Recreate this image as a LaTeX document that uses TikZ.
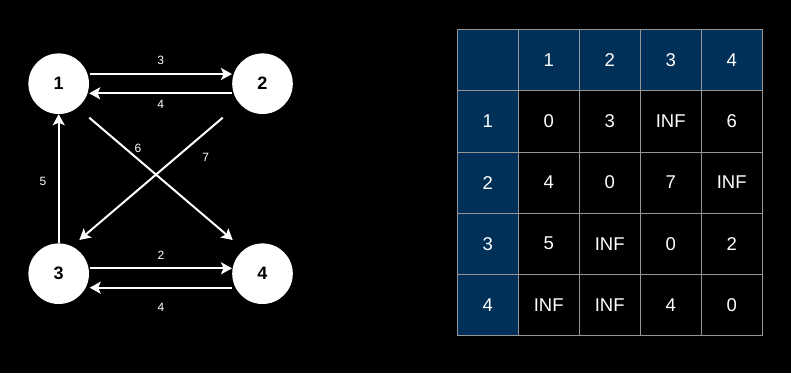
\documentclass[tikz,border=0pt]{standalone}
\usepackage{fontspec}
\setmainfont{Liberation Sans}
\usetikzlibrary{arrows.meta,calc}
\definecolor{hdr}{RGB}{0,48,88}
\definecolor{gridc}{RGB}{150,150,150}
\begin{document}
\begin{tikzpicture}[x=1pt,y=-1pt,
  vtx/.style={circle,fill=white,minimum size=60.6pt,inner sep=0pt,font=\fontsize{18}{20}\selectfont\bfseries,text=black},
  arr/.style={draw=white,line width=2pt,-{Stealth[length=11pt,width=12pt,inset=2.5pt]}},
  elab/.style={text=white,font=\fontsize{12}{14}\selectfont,inner sep=0pt},
  cell/.style={draw=gridc,line width=1pt,minimum width=61pt,minimum height=61.1pt,inner sep=0pt,text=white,font=\fontsize{18.5}{20}\selectfont,anchor=north west}]
\fill[black] (0,0) rectangle (791,373);
\useasboundingbox (0,0) rectangle (791,373);

% graph
\node[vtx] (n1) at (58.7,83.7) {1};
\node[vtx] (n2) at (262.5,83.7) {2};
\node[vtx] (n3) at (58.7,273.7) {3};
\node[vtx] (n4) at (262.5,273.7) {4};

\draw[arr] ($(n1)+(30.8,-9.7)$) -- node[elab,yshift=14pt]{3} ($(n2)+(-30.5,-9.7)$);
\draw[arr] ($(n2)+(-30.5,9.6)$) -- node[elab,yshift=-10.7pt]{4} ($(n1)+(30.5,9.6)$);
\draw[arr] ($(n3)+(31,-5.4)$) -- node[elab,yshift=13.3pt]{2} ($(n4)+(-30.5,-5.4)$);
\draw[arr] ($(n4)+(-30.5,14)$) -- node[elab,yshift=-19.6pt]{4} ($(n3)+(31,14)$);
\draw[arr] ($(n3)+(0,-30.5)$) -- node[elab,xshift=-15.7pt,yshift=-2.5pt]{5} ($(n1)+(0,30.5)$);
\draw[arr] ($(n1)+(30.6,34)$) -- node[elab,pos=0.34,yshift=10.6pt]{6} ($(n4)+(-29.8,-33.7)$);
\draw[arr] ($(n2)+(-39.8,34)$) -- node[elab,pos=0.119,yshift=-25.1pt]{7} ($(n3)+(20.6,-33.7)$);

% table
\foreach [count=\r from 0] \row in {{{},1,2,3,4},{1,0,3,INF,6},{2,4,0,7,INF},{3,5,INF,0,2},{4,INF,INF,4,0}} {
  \foreach [count=\c from 0] \v in \row {
    \ifnum\r=0 \def\fc{hdr}\else\ifnum\c=0 \def\fc{hdr}\else\def\fc{black}\fi\fi
    \node[cell,fill=\fc] (c-\r-\c) at (456.7+61*\c,29.3+61.1*\r) {\v};
  }
}
\end{tikzpicture}
\end{document}
